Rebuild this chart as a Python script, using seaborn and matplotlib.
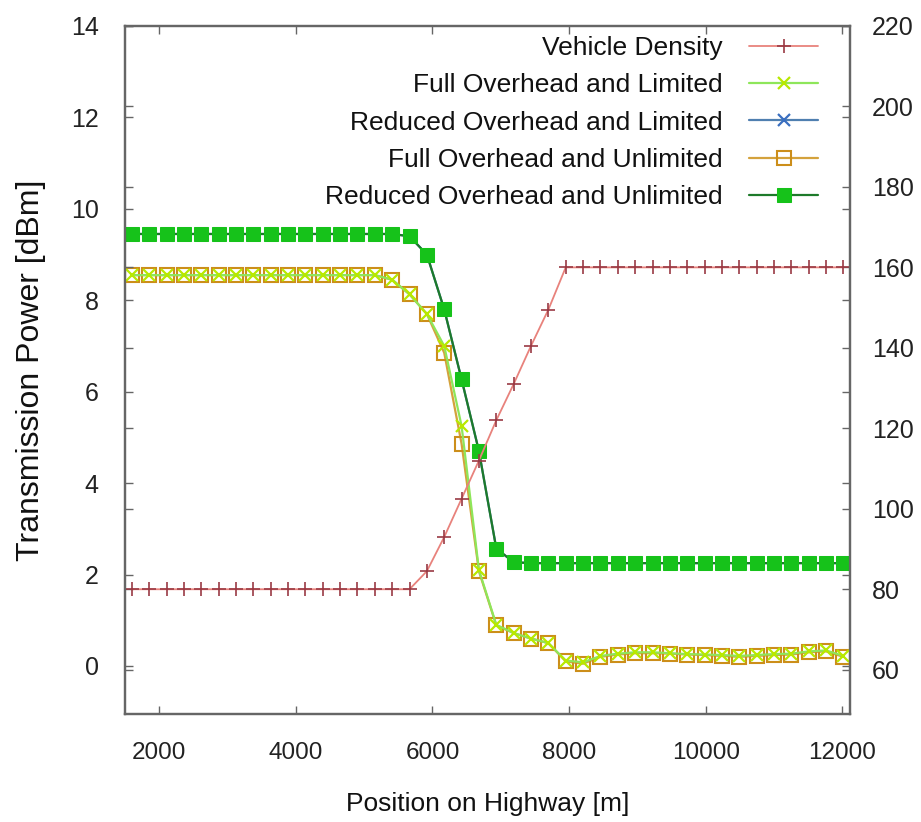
import numpy as np
import pandas as pd
import matplotlib
matplotlib.use("Agg")
import matplotlib.pyplot as plt
import seaborn as sns

# Positions on the highway (m)
position = [1600, 1854, 2108, 2362, 2616, 2870, 3124, 3378, 3632, 3886,
            4140, 4394, 4648, 4902, 5156, 5410, 5664, 5918, 6172, 6426,
            6680, 6934, 7188, 7442, 7696, 7950, 8204, 8458, 8712, 8966,
            9220, 9474, 9728, 9982, 10236, 10490, 10744, 10998, 11252, 11506,
            11760, 12014]

# Vehicle density (right axis)
vehicle_density = [80] * 17 + [84.5, 93, 102.5, 112, 122, 131, 140.5, 149.5] + [160] * 17

# Transmission power [dBm] (left axis)
full_limited = [8.55] * 15 + [8.45, 8.13, 7.7, 7.0, 5.25, 2.1, 0.9, 0.72, 0.6, 0.5, 0.12,
                              0.08, 0.22, 0.27, 0.3, 0.3, 0.28, 0.26, 0.25, 0.24, 0.22,
                              0.24, 0.26, 0.27, 0.32, 0.34, 0.22]
reduced_limited = [9.45] * 16 + [9.4, 9.0, 7.8, 6.27, 4.7, 2.57, 2.27] + [2.25] * 19
full_unlimited = [8.55] * 15 + [8.45, 8.13, 7.7, 6.85, 4.86, 2.07, 0.89, 0.72, 0.6, 0.5, 0.1,
                                0.05, 0.2, 0.25, 0.28, 0.28, 0.27, 0.25, 0.24, 0.22, 0.2,
                                0.22, 0.24, 0.25, 0.3, 0.32, 0.2]
reduced_unlimited = [9.45] * 16 + [9.4, 9.0, 7.8, 6.27, 4.7, 2.57, 2.27] + [2.25] * 19

df = pd.DataFrame({
    "pos": position,
    "density": vehicle_density,
    "full_lim": full_limited,
    "red_lim": reduced_limited,
    "full_unl": full_unlimited,
    "red_unl": reduced_unlimited,
})

sns.set_theme(style="white")
plt.rcParams["font.family"] = ["Liberation Sans", "DejaVu Sans"]

fig = plt.figure(figsize=(9.21, 8.22), dpi=100)
ax = fig.add_axes([0.1357, 0.1314, 0.7872, 0.837])
ax2 = ax.twinx()

# power curves on the left axis
sns.lineplot(data=df, x="pos", y="full_unl", ax=ax, color="#d4a23c", lw=1.6,
             marker="s", markersize=10, markerfacecolor="none", markeredgecolor="#cc8e1a",
             markeredgewidth=1.5, label="Full Overhead and Unlimited", zorder=3)
sns.lineplot(data=df, x="pos", y="full_lim", ax=ax, color="#8ee65a", lw=1.6,
             marker="x", markersize=8, markeredgecolor="#b8e800", markeredgewidth=1.6,
             label="Full Overhead and Limited", zorder=4)
sns.lineplot(data=df, x="pos", y="red_lim", ax=ax, color="#4f7fb0", lw=1.6,
             marker="x", markersize=8, markeredgecolor="#3a6fc0", markeredgewidth=1.6,
             label="Reduced Overhead and Limited", zorder=3)
sns.lineplot(data=df, x="pos", y="red_unl", ax=ax, color="#1d7a2a", lw=1.6,
             marker="s", markersize=10.5, markerfacecolor="#16c21a", markeredgecolor="#16c21a",
             label="Reduced Overhead and Unlimited", zorder=5)

# vehicle density on the right axis
sns.lineplot(data=df, x="pos", y="density", ax=ax2, color="#e8827c", lw=1.3,
             marker="+", markersize=10, markeredgecolor="#9a3a44", markeredgewidth=1.2,
             label="Vehicle Density")

ax.set_xlim(1500, 12110)
ax.set_ylim(-1.05, 14)
ax2.set_ylim(49, 220)
ax.set_xticks(range(2000, 12001, 2000))
ax.set_yticks(range(0, 15, 2))
ax2.set_yticks(range(60, 221, 20))

ax.set_xlabel("Position on Highway [m]", fontsize=19, labelpad=20, color="#111111")
ax.set_ylabel("Transmission Power [dBm]", fontsize=23, labelpad=18, color="#111111")
ax2.set_ylabel("")

for a in (ax, ax2):
    for s in a.spines.values():
        s.set_color("#666666")
        s.set_linewidth(1.6)
ax.tick_params(axis="x", direction="in", length=6, width=1, colors="#666666",
               labelcolor="#222222", labelsize=17.5, pad=20, top=True, bottom=True)
ax.tick_params(axis="y", direction="in", length=6, width=1, colors="#666666",
               labelcolor="#222222", labelsize=18, pad=19, left=True, right=True,
               labelright=False)
ax2.tick_params(axis="y", direction="in", length=6, width=1, colors="#666666",
                labelcolor="#222222", labelsize=18, pad=16, right=True, left=True,
                labelleft=False)

# one legend for both axes, text right-aligned with samples on the right
h1, l1 = ax.get_legend_handles_labels()
h2, l2 = ax2.get_legend_handles_labels()
order = ["Full Overhead and Limited", "Reduced Overhead and Limited",
         "Full Overhead and Unlimited", "Reduced Overhead and Unlimited"]
hmap = dict(zip(l1, h1))
handles = h2 + [hmap[k] for k in order]
labels = l2 + order
ax.get_legend().remove()
ax2.get_legend().remove()
leg = ax2.legend(handles, labels, loc="upper right", bbox_to_anchor=(0.956, 0.985),
                 frameon=False, markerfirst=False, fontsize=19, handlelength=2.6,
                 handletextpad=1.0, labelspacing=0.5, borderpad=0, borderaxespad=0)
for t in leg.get_texts():
    t.set_color("#111111")

fig.savefig("out.png", dpi=100)
